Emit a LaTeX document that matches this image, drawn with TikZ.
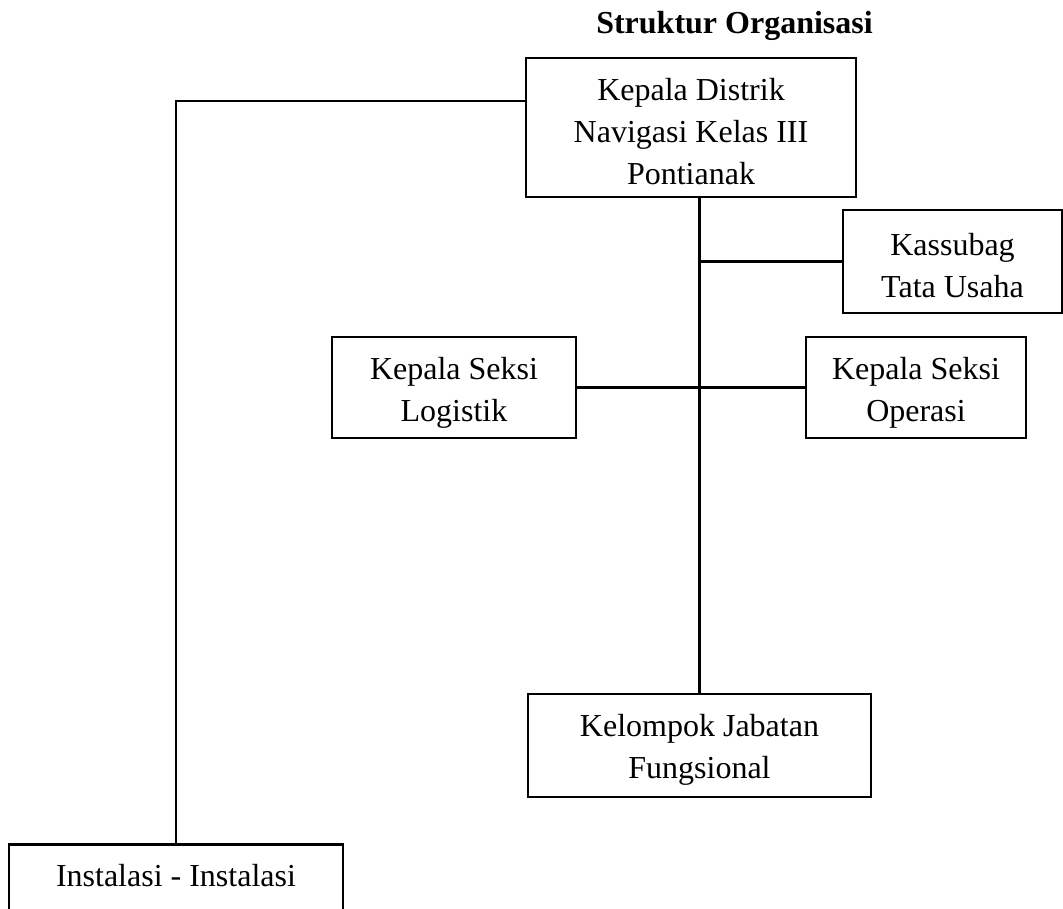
\documentclass[tikz,border=0pt]{standalone}
\usepackage{fontspec}
\setmainfont{Liberation Serif}
\begin{document}
\begin{tikzpicture}[x=1pt,y=-1pt,
  txt/.style={font=\fontsize{32}{42}\selectfont},
  box/.style={draw=black, line width=2.6pt, rectangle, inner sep=0pt},
  lbl/.style={txt, align=center, inner sep=0pt, yshift=-4pt},
  conn/.style={draw=black, line width=2.6pt}]
\clip (0,0) rectangle (1063,908);
\fill[white] (0,0) rectangle (1063,908);
\node[font=\fontsize{32}{42}\selectfont\bfseries, anchor=base] (title) at (734.5,33) {Struktur Organisasi};
\node[box, minimum width=330pt, minimum height=139pt,
  label={[lbl]center:Kepala Distrik\\Navigasi Kelas III\\Pontianak}] (kd) at (691,127.5) {};
\node[box, minimum width=219pt, minimum height=103pt,
  label={[lbl]center:Kassubag\\Tata Usaha}] (kas) at (952.5,261.5) {};
\node[box, minimum width=244pt, minimum height=101pt,
  label={[lbl, yshift=-1pt]center:Kepala Seksi\\Logistik}] (log) at (454,387.5) {};
\node[box, minimum width=220pt, minimum height=101pt,
  label={[lbl, yshift=-1pt]center:Kepala Seksi\\Operasi}] (ops) at (916,387.5) {};
\node[box, minimum width=343pt, minimum height=103pt,
  label={[lbl]center:Kelompok Jabatan\\Fungsional}] (kel) at (699.5,745.5) {};
\node[box, txt, minimum width=334pt, anchor=north, inner ysep=19pt, text height=23pt, text depth=70pt] (ins) at (176,843) {Instalasi - Instalasi};
\draw[conn] (kd.south -| kel.north) -- (kel.north);
\draw[conn] (kas.west) -- (kas.west -| kel.north);
\draw[conn] (log.east) -- (ops.west);
\draw[conn] (ins.north) |- ([yshift=26.5pt]kd.west);
\end{tikzpicture}
\end{document}
